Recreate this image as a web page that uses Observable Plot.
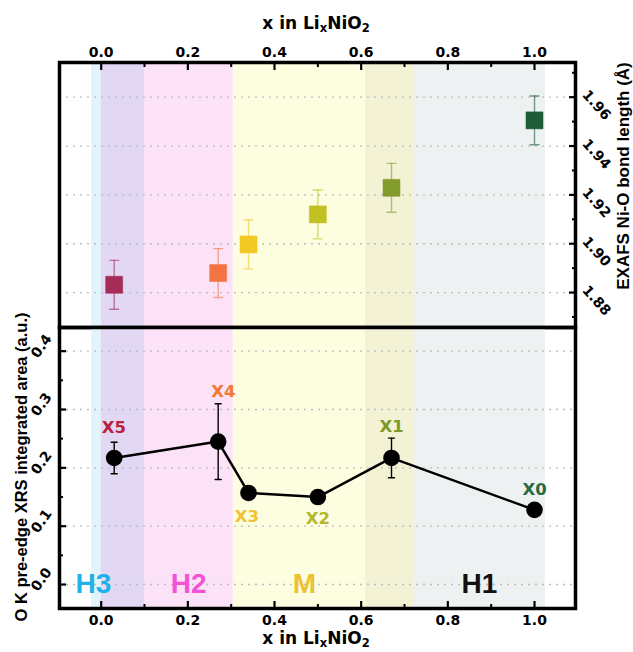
<!DOCTYPE html>
<html>
<head>
<meta charset="utf-8">
<script src="https://cdn.jsdelivr.net/npm/d3@7"></script>
<script src="https://cdn.jsdelivr.net/npm/@observablehq/plot@0.6"></script>
<style>
  body { margin: 0; background: #fff; }
  #wrap { position: relative; width: 633px; height: 652px; background: #fff; overflow: hidden; }
  .panel { position: absolute; left: 0; }
  .panel svg { overflow: visible; background: transparent !important; }
  .ttl { position: absolute; font-weight: bold; color: #000; white-space: nowrap; line-height: 1; transform-origin: center center; }
  .ttl sub { font-size: 0.68em; vertical-align: -0.3em; line-height: 0; }
  .hz { font-family: "DejaVu Sans", sans-serif; font-size: 17px; transform: translate(-50%, -50%); }
  .vt { font-family: "Liberation Sans", Arial, sans-serif; font-size: 16.5px; transform: translate(-50%, -50%) rotate(-90deg); }
</style>
</head>
<body>
<div id="wrap">
  <div id="p1" class="panel" style="top:0px"></div>
  <div id="p2" class="panel" style="top:327px"></div>
  <div class="ttl hz" style="left:316px; top:23px;">x in Li<sub>x</sub>NiO<sub>2</sub></div>
  <div class="ttl hz" style="left:316px; top:638px;">x in Li<sub>x</sub>NiO<sub>2</sub></div>
  <div class="ttl vt" style="left:623px; top:176px; font-size:17px;">EXAFS Ni-O bond length (Å)</div>
  <div class="ttl vt" style="left:21px; top:467px;">O K pre-edge XRS integrated area (a.u.)</div>
</div>
<script>
// ---------- data ----------
const samples      = ["X5", "X4", "X3", "X2", "X1", "X0"];
const xLi          = [0.03, 0.27, 0.34, 0.50, 0.67, 1.00];
const bondLength   = [1.8832, 1.8880, 1.8997, 1.9120, 1.9229, 1.9505];
const bondErr      = [0.010, 0.010, 0.010, 0.010, 0.010, 0.010];
const preEdgeArea  = [0.217, 0.245, 0.157, 0.150, 0.217, 0.128];
const areaErr      = [0.027, 0.065, 0.010, 0.004, 0.034, 0.003];
const sampleColors = ["#a52b58", "#f37442", "#f2c824", "#c1c121", "#839b2b", "#1d5c37"];
const labelColors  = ["#b5233f", "#f47835", "#eec232", "#b3b72c", "#7b9a2a", "#276b3e"];
const labelX       = [0.029, 0.282, 0.336, 0.500, 0.670, 1.000];
const labelY       = [0.268, 0.331, 0.117, 0.113, 0.270, 0.162];

const bandStart  = [-0.022, 0.000, 0.100, 0.305, 0.610, 0.723];
const bandEnd    = [0.000, 0.100, 0.305, 0.610, 0.723, 1.025];
const bandColors = ["#e1f3fb", "#e3d8f4", "#fbe2f7", "#fdfde0", "#f3f2d5", "#eef1f1"];

const phases      = ["H3", "H2", "M", "H1"];
const phaseX      = [-0.018, 0.202, 0.469, 0.873];
const phaseColors = ["#1fb2ea", "#f352d6", "#ecc230", "#111111"];

const xMajor    = [0.0, 0.2, 0.4, 0.6, 0.8, 1.0];
const xMinor    = [0.1, 0.3, 0.5, 0.7, 0.9];
const bondMajor = [1.88, 1.90, 1.92, 1.94, 1.96];
const bondMinor = [1.87, 1.89, 1.91, 1.93, 1.95, 1.97];
const areaMajor = [0.0, 0.1, 0.2, 0.3, 0.4];
const areaMinor = [0.05, 0.15, 0.25, 0.35];

// ---------- tables ----------
const pts = samples.map((s, i) => ({
  name: s, x: xLi[i], bond: bondLength[i], be: bondErr[i],
  area: preEdgeArea[i], ae: areaErr[i], color: sampleColors[i],
  lcolor: labelColors[i], lx: labelX[i], ly: labelY[i]
}));
const bands = bandStart.map((s, i) => ({start: s, end: bandEnd[i], color: bandColors[i]}));
const phaseData = phases.map((p, i) => ({name: p, x: phaseX[i], color: phaseColors[i]}));

const xDomain = [-0.0962, 1.0946];
const W = 633;
const tickFont = "DejaVu Sans";
const tickSizePx = 14;
const capShape = {draw(context, l) { context.moveTo(0, 0); context.lineTo(0, -l); }};
const baseStyle = {fontFamily: tickFont, fontSize: tickSizePx + "px", fontWeight: "bold", color: "#000", background: "transparent", overflow: "visible"};

// ---------- top panel ----------
const p1 = Plot.plot({
  width: W, height: 327,
  marginTop: 62, marginBottom: 0, marginLeft: 59, marginRight: 58,
  style: baseStyle,
  x: {domain: xDomain, axis: null},
  y: {domain: [1.8657, 1.9742], axis: null},
  color: {type: "identity"},
  marks: [
    Plot.rectX(bands, {x1: "start", x2: "end", fill: "color"}),
    Plot.ruleY(bondMajor, {y: d => d, stroke: "#bcbcbc", strokeWidth: 1.3, strokeDasharray: "2,5"}),
    Plot.ruleX(pts, {x: "x", y1: d => d.bond - d.be, y2: d => d.bond + d.be, stroke: "color", strokeOpacity: 0.6, strokeWidth: 1.4}),
    Plot.vector(pts, {x: "x", y: d => d.bond - d.be, length: 9, rotate: 90, anchor: "middle", shape: capShape, stroke: "color", strokeOpacity: 0.6, strokeWidth: 1.4}),
    Plot.vector(pts, {x: "x", y: d => d.bond + d.be, length: 9, rotate: 90, anchor: "middle", shape: capShape, stroke: "color", strokeOpacity: 0.6, strokeWidth: 1.4}),
    Plot.dot(pts, {x: "x", y: "bond", symbol: "square", r: 9.6, fill: "color", stroke: "color", strokeOpacity: 0.5, strokeWidth: 1}),
    Plot.axisX(xMajor, {anchor: "top", tickSize: -7, tickFormat: () => "", strokeWidth: 2.2, label: null}),
    Plot.axisX(xMinor, {anchor: "top", tickSize: -4, tickFormat: () => "", strokeWidth: 2, label: null}),
    Plot.axisX(xMajor, {anchor: "top", tickSize: 0, tickPadding: 6, tickFormat: d3.format(".1f"), fontSize: tickSizePx, fontWeight: "bold", label: null}),
    Plot.axisY(bondMajor, {anchor: "right", tickSize: -7, tickFormat: () => "", strokeWidth: 2.2, label: null}),
    Plot.axisY(bondMinor, {anchor: "right", tickSize: -4, tickFormat: () => "", strokeWidth: 2, label: null}),
    Plot.text(bondMajor, {y: d => d, frameAnchor: "right", text: d => d.toFixed(2), dx: 21, dy: 8, rotate: 48, textAnchor: "middle", lineAnchor: "middle", fontSize: tickSizePx, fontWeight: "bold", fontFamily: tickFont, fill: "#000"}),
    Plot.frame({stroke: "#000", strokeWidth: 3.5})
  ]
});
document.getElementById("p1").appendChild(p1);

// ---------- bottom panel ----------
const p2 = Plot.plot({
  width: W, height: 325,
  marginTop: 0, marginBottom: 44, marginLeft: 59, marginRight: 58,
  style: baseStyle,
  x: {domain: xDomain, axis: null},
  y: {domain: [-0.0411, 0.4406], axis: null},
  color: {type: "identity"},
  marks: [
    Plot.rectX(bands, {x1: "start", x2: "end", fill: "color"}),
    Plot.ruleY(areaMajor, {y: d => d, stroke: "#bcbcbc", strokeWidth: 1.3, strokeDasharray: "2,5"}),
    Plot.text(phaseData, {x: "x", y: 0, text: "name", fill: "color", fontSize: 28, fontWeight: "bold", fontFamily: "Liberation Sans", lineAnchor: "middle"}),
    Plot.ruleX(pts, {x: "x", y1: d => d.area - d.ae, y2: d => d.area + d.ae, stroke: "#000", strokeWidth: 1.4}),
    Plot.vector(pts, {x: "x", y: d => d.area - d.ae, length: 6, rotate: 90, anchor: "middle", shape: capShape, stroke: "#000", strokeWidth: 1.4}),
    Plot.vector(pts, {x: "x", y: d => d.area + d.ae, length: 6, rotate: 90, anchor: "middle", shape: capShape, stroke: "#000", strokeWidth: 1.4}),
    Plot.line(pts, {x: "x", y: "area", stroke: "#000", strokeWidth: 2.5}),
    Plot.dot(pts, {x: "x", y: "area", r: 8.3, fill: "#000"}),
    Plot.text(pts, {x: "lx", y: "ly", text: "name", fill: "lcolor", fontSize: 16.5, fontWeight: "bold", fontFamily: tickFont, lineAnchor: "middle"}),
    Plot.axisX(xMajor, {anchor: "bottom", tickSize: -7, tickFormat: () => "", strokeWidth: 2.2, label: null}),
    Plot.axisX(xMinor, {anchor: "bottom", tickSize: -4, tickFormat: () => "", strokeWidth: 2, label: null}),
    Plot.axisX(xMajor, {anchor: "bottom", tickSize: 0, tickPadding: 7, tickFormat: d3.format(".1f"), fontSize: tickSizePx, fontWeight: "bold", label: null}),
    Plot.axisY(areaMajor, {anchor: "left", tickSize: -7, tickFormat: () => "", strokeWidth: 2.2, label: null}),
    Plot.axisY(areaMinor, {anchor: "left", tickSize: -4, tickFormat: () => "", strokeWidth: 2, label: null}),
    Plot.text(areaMajor, {y: d => d, frameAnchor: "left", text: d => d.toFixed(1), dx: -18, dy: -5, rotate: -55, textAnchor: "middle", lineAnchor: "middle", fontSize: tickSizePx, fontWeight: "bold", fontFamily: tickFont, fill: "#000"}),
    Plot.frame({stroke: "#000", strokeWidth: 3.5})
  ]
});
document.getElementById("p2").appendChild(p2);
</script>
</body>
</html>
